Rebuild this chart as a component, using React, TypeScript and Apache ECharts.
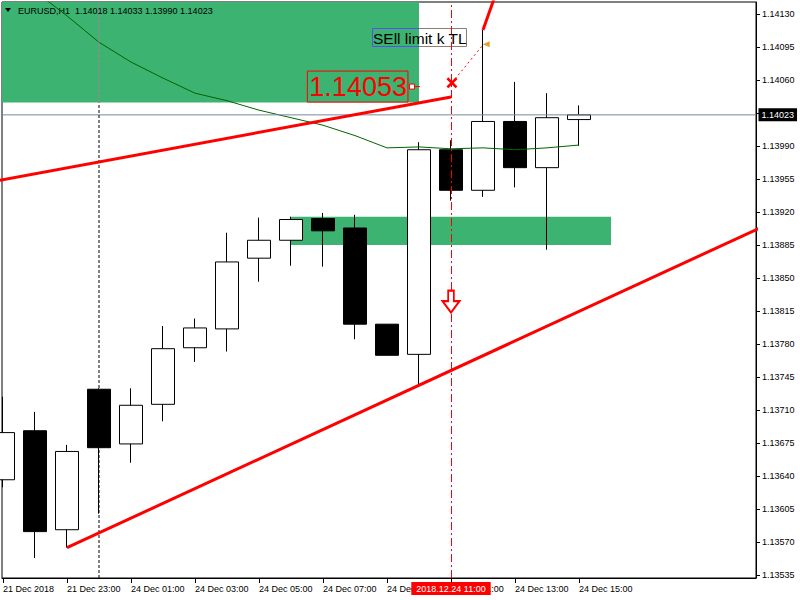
import React, { useEffect, useRef } from 'react';
import * as echarts from 'echarts';

// ---- data ----
const SYMBOL = 'EURUSD,H1';
const TIME_LABELS = ['21 Dec 2018', '21 Dec 23:00', '24 Dec 01:00', '24 Dec 03:00', '24 Dec 05:00', '24 Dec 07:00', '24 Dec 09:00', '24 Dec 11:00', '24 Dec 13:00', '24 Dec 15:00'];
const TIME_LABEL_INDEX = [0, 2, 4, 6, 8, 10, 12, 14, 16, 18];
const PRICE_TICKS = ['1.13535', '1.13570', '1.13605', '1.13640', '1.13675', '1.13710', '1.13745', '1.13780', '1.13815', '1.13850', '1.13885', '1.13920', '1.13955', '1.13990', '1.14025', '1.14060', '1.14095', '1.14130'];
// the 1.14025 label sits under the current-price box, so it is not printed
const PRICE_LABELS_SHOWN = PRICE_TICKS.filter((t) => t !== '1.14025');

const OPEN = [1.13636, 1.13688, 1.13583, 1.13732, 1.13674, 1.13716, 1.13776, 1.13796, 1.13871, 1.13890, 1.13913, 1.13903, 1.13801, 1.13769, 1.13986, 1.13943, 1.14016, 1.13967, 1.14018];
const CLOSE = [1.13686, 1.13581, 1.13666, 1.13670, 1.13715, 1.13775, 1.13797, 1.13867, 1.13890, 1.13912, 1.13900, 1.13801, 1.13768, 1.13986, 1.13943, 1.14016, 1.13967, 1.14020, 1.14023];
const LOW = [1.13628, 1.13553, 1.13564, 1.13600, 1.13654, 1.13698, 1.13761, 1.13772, 1.13846, 1.13863, 1.13862, 1.13785, 1.13768, 1.13736, 1.13932, 1.13936, 1.13946, 1.13880, 1.13990];
const HIGH = [1.13724, 1.13708, 1.13673, 1.13733, 1.13733, 1.13799, 1.13807, 1.13898, 1.13914, 1.13915, 1.13919, 1.13917, 1.13801, 1.13994, 1.13996, 1.14113, 1.14058, 1.14046, 1.14033];
const MA = [1.14182, 1.14154, 1.14128, 1.14100, 1.14079, 1.14062, 1.14046, 1.14038, 1.14028, 1.14020, 1.14012, 1.14001, 1.13988, 1.13989, 1.13987, 1.13988, 1.13986, 1.13988, 1.13991];

// zones: [x0, x1, priceLow, priceHigh]
const ZONES = [
  [-2, 13, 1.14036, 1.1425],
  [9, 19, 1.13885, 1.13915],
];
const TREND_1 = [[-1, 1.13948], [14, 1.14042]];
const TREND_2 = [[2, 1.13564], [24, 1.139085]];
const TREND_3 = [[15, 1.14113], [15.5, 1.14161]];
const TRADE_LINE = [[14.03, 1.14057], [14.97, 1.14096]];
const CLOSE_MARK = [[14.03, 1.14057]];
const ORDER_MARK = [[15.1, 1.14098]];
const SELL_ARROW = [[14, 1.13825]];
const PRICE_LABEL = 1.14053;
const PRICE_LABEL_AT = 12.78;
const PRICE_LABEL_LINE = [[12.78, 1.14053], [13.03, 1.14053]];
const BID = 1.14023;
const SEPARATOR_AT = 3;
const VLINE_AT = 14;
const VLINE_LABEL = '2018.12.24 11:00';
const NOTE_TEXT = 'SEll limit k TL';

const X_MIN = -0.03125;
const X_MAX = 23.53125;
const Y_MIN = 1.135318;
const Y_MAX = 1.141427;

const GREEN = '#3CB371';
const FONT = 'Liberation Sans';

export default function App() {
  const ref = useRef<HTMLDivElement>(null);
  useEffect(() => {
    if (!ref.current) return;
    const chart = echarts.init(ref.current, undefined, { renderer: 'svg' });
    const candles = OPEN.map((o, i) => [i, o, CLOSE[i], LOW[i], HIGH[i]]);
    const maData = MA.map((v, i) => [i, v]);
    const title = `${SYMBOL}  ${OPEN[18].toFixed(5)} ${HIGH[18].toFixed(5)} ${LOW[18].toFixed(5)} ${CLOSE[18].toFixed(5)}`;
    const zoneBottom = ZONES[0][2];
    const plainLine = (data: number[][], lineStyle: any, z = 4) => ({
      type: 'line', z, silent: true, data, showSymbol: false, symbol: 'none', lineStyle,
    });

    const option: any = {
      animation: false,
      textStyle: { fontFamily: FONT },
      grid: { left: 2, right: 44, top: 2, bottom: 22, show: true, borderColor: '#000', borderWidth: 1, backgroundColor: '#fff', outerBoundsMode: 'none' },
      xAxis: {
        type: 'value', min: X_MIN, max: X_MAX,
        splitLine: { show: false },
        axisLine: { show: true, onZero: false, lineStyle: { color: '#000', width: 1 } },
        axisTick: { show: true, length: 5, lineStyle: { color: '#000' }, customValues: TIME_LABEL_INDEX },
        axisLabel: {
          customValues: TIME_LABEL_INDEX, align: 'left', margin: 6, fontSize: 9, color: '#000', fontFamily: FONT,
          formatter: (v: number) => { const k = TIME_LABEL_INDEX.indexOf(Math.round(v)); return k >= 0 ? TIME_LABELS[k] : ''; },
        },
      },
      yAxis: {
        type: 'value', position: 'right', min: Y_MIN, max: Y_MAX, scale: true,
        splitLine: { show: false },
        axisLine: { show: true, onZero: false, lineStyle: { color: '#000', width: 1 } },
        axisTick: { show: true, length: 4, lineStyle: { color: '#000' }, customValues: PRICE_TICKS.map(Number) },
        axisLabel: { customValues: PRICE_LABELS_SHOWN.map(Number), margin: 6, fontSize: 9, color: '#000', fontFamily: FONT, formatter: (v: number) => v.toFixed(5) },
      },
      series: [
        {
          type: 'custom', name: 'zones', z: 1, silent: true, data: ZONES,
          renderItem: (params: any, api: any) => {
            const p0 = api.coord([api.value(0), api.value(3)]);
            const p1 = api.coord([api.value(1), api.value(2)]);
            const cs = params.coordSys;
            const r = echarts.graphic.clipRectByRect(
              { x: p0[0], y: p0[1], width: p1[0] - p0[0], height: p1[1] - p0[1] },
              { x: cs.x, y: cs.y, width: cs.width, height: cs.height }
            );
            return r ? { type: 'rect', shape: r, style: { fill: GREEN } } : null;
          },
        },
        {
          type: 'candlestick', name: SYMBOL, z: 2, silent: true, data: candles, barWidth: 24,
          itemStyle: { color: '#ffffff', color0: '#000000', borderColor: '#000000', borderColor0: '#000000', borderWidth: 1 },
        },
        {
          type: 'line', name: 'MA', z: 3, silent: true, data: maData, showSymbol: false, symbol: 'none',
          lineStyle: { color: '#006400', width: 1 },
          markLine: {
            silent: true, symbol: ['none', 'none'], animation: false,
            data: [
              { xAxis: VLINE_AT, lineStyle: { color: '#ff0000', width: 1, type: [8, 3, 2, 3] },
                label: { show: true, position: 'start', distance: 4, formatter: VLINE_LABEL, color: '#fff', backgroundColor: '#ff0000', fontSize: 9, fontFamily: FONT, padding: [2, 5, 1, 5], lineHeight: 10 } },
            ],
          },
        },
        plainLine([[X_MIN, BID], [X_MAX, BID]], { color: '#778899', width: 1 }, 3),
        plainLine([[SEPARATOR_AT, Y_MIN], [SEPARATOR_AT, zoneBottom]], { color: '#000', width: 1, type: [3, 2] }, 3),
        plainLine([[SEPARATOR_AT, zoneBottom], [SEPARATOR_AT, Y_MAX]], { color: '#c8709c', width: 1, type: [3, 2] }, 3),
        plainLine(TREND_1, { color: '#ff0000', width: 3 }),
        plainLine(TREND_2, { color: '#ff0000', width: 3 }),
        plainLine(TREND_3, { color: '#ff0000', width: 3 }),
        plainLine(TRADE_LINE, { color: '#ff0000', width: 1, type: [2, 3] }),
        plainLine(PRICE_LABEL_LINE, { color: '#ff0000', width: 1 }),
        {
          type: 'scatter', z: 6, silent: true, data: [[X_MAX, BID]], symbol: 'rect', symbolSize: 1, clip: false,
          itemStyle: { color: 'rgba(0,0,0,0)', opacity: 1 },
          label: { show: true, position: 'right', distance: 2, formatter: BID.toFixed(5), color: '#fff', backgroundColor: '#000', opacity: 1, fontSize: 9, fontFamily: FONT, padding: [2, 3, 1, 3], lineHeight: 10 },
        },
        {
          type: 'scatter', z: 5, silent: true, data: CLOSE_MARK,
          symbol: 'path://M0,2 L2,0 L6,4 L10,0 L12,2 L8,6 L12,10 L10,12 L6,8 L2,12 L0,10 L4,6 Z', symbolSize: 11,
          itemStyle: { color: '#ff0000', opacity: 1 },
        },
        {
          type: 'scatter', z: 5, silent: true, data: ORDER_MARK, symbol: 'triangle', symbolRotate: 90, symbolSize: [6, 7],
          itemStyle: { color: '#e0a030', opacity: 1 },
        },
        {
          type: 'scatter', z: 5, silent: true, data: SELL_ARROW,
          symbol: 'path://M6,0 L12,0 L12,11 L18,11 L9,23 L0,11 L6,11 Z', symbolSize: [17, 22],
          itemStyle: { color: '#ffffff', borderColor: '#ff0000', borderWidth: 2, opacity: 1 },
        },
        {
          type: 'scatter', z: 5, silent: true, data: [[PRICE_LABEL_AT, PRICE_LABEL]], symbol: 'rect', symbolSize: 5,
          itemStyle: { color: '#ffffff', borderColor: '#ff0000', borderWidth: 1, opacity: 1 },
          label: {
            show: true, position: 'left', distance: 1, formatter: PRICE_LABEL.toFixed(5), color: '#ff0000', fontSize: 27, fontFamily: FONT,
            borderColor: '#ff0000', borderWidth: 1, padding: [2, 1, 0, 2], lineHeight: 29,
          },
        },
      ],
      graphic: [
        { type: 'polygon', z: 1.5, silent: true, shape: { points: [[5, 8], [11, 8], [8, 12]] }, style: { fill: '#000' } },
        { type: 'text', z: 1.5, silent: true, x: 18, y: 11, style: { text: title, font: `9px "${FONT}"`, fill: '#000', verticalAlign: 'middle' } },
        { type: 'rect', z: 1.5, silent: true, shape: { x: 372.5, y: 28.5, width: 94, height: 18 }, style: { fill: 'none', stroke: '#8c7f70', lineWidth: 1 } },
        { type: 'polyline', z: 1.6, silent: true, shape: { points: [[419, 28.5], [372.5, 28.5], [372.5, 46.5], [419, 46.5]] }, style: { fill: 'none', stroke: '#5a50f0', lineWidth: 1 } },
        { type: 'text', z: 1.6, silent: true, x: 373, y: 38, style: { text: NOTE_TEXT, font: `15.5px "${FONT}"`, fill: '#000', verticalAlign: 'middle' } },
      ],
    };
    chart.setOption(option);
    return () => chart.dispose();
  }, []);
  return <div ref={ref} style={{ position: 'fixed', left: 0, top: 0, width: 800, height: 600, background: '#fff' }} />;
}
